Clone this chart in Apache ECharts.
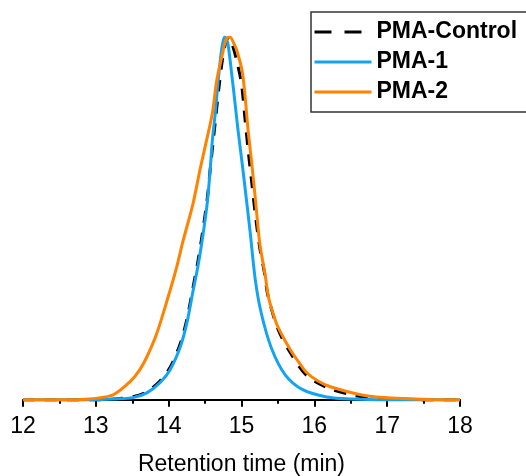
<!DOCTYPE html>
<html>
<head>
<meta charset="utf-8">
<script src="https://cdn.jsdelivr.net/npm/echarts@6/dist/echarts.min.js"></script>
<style>
  html, body { margin: 0; padding: 0; background: #fff; overflow: hidden; }
  #chart { width: 526px; height: 476px; }
</style>
</head>
<body>
<div id="chart"></div>
<script>
// series names and values: [time (min), normalised signal]
var names = ['PMA-Control', 'PMA-1', 'PMA-2'];

var control = [[12,0],[13.0,0],[13.24,0.002],[13.5,0.008],[13.70,0.022],[13.88,0.052],[14.02,0.09],
  [14.16,0.155],[14.25,0.222],[14.33,0.305],[14.40,0.38],[14.46,0.455],[14.53,0.555],[14.57,0.635],
  [14.61,0.71],[14.65,0.785],[14.69,0.86],[14.74,0.94],[14.79,0.99],[14.83,1.0],[14.88,0.975],
  [14.94,0.93],[15.0,0.87],[15.05,0.77],[15.09,0.69],[15.14,0.6],[15.19,0.51],[15.25,0.42],
  [15.32,0.345],[15.36,0.29],[15.5,0.195],[15.67,0.13],[15.9,0.066],[16.22,0.03],[16.53,0.013],
  [16.76,0.006],[17.18,0.002],[17.5,0],[18,0]];

var pma1 = [[12,0],[13.0,0],[13.24,0.002],[13.51,0.006],[13.70,0.019],[13.88,0.047],[14.02,0.083],
  [14.16,0.146],[14.25,0.212],[14.33,0.295],[14.40,0.366],[14.46,0.44],[14.53,0.543],[14.57,0.634],
  [14.60,0.716],[14.64,0.79],[14.68,0.88],[14.73,0.97],[14.77,1.0],[14.81,0.985],[14.87,0.89],
  [14.91,0.82],[14.95,0.747],[15.01,0.65],[15.08,0.53],[15.12,0.46],[15.19,0.33],[15.27,0.24],
  [15.41,0.143],[15.60,0.069],[15.84,0.028],[16.17,0.008],[16.53,0.002],[17,0],[18,0]];

var pma2 = [[12.0,0],[12.5,0],[12.8,0.001],[13.0,0.004],[13.24,0.014],[13.47,0.05],[13.6,0.082],
  [13.70,0.118],[13.84,0.185],[13.98,0.275],[14.11,0.366],[14.20,0.44],[14.33,0.537],[14.43,0.634],
  [14.50,0.697],[14.60,0.79],[14.66,0.88],[14.73,0.945],[14.79,0.995],[14.84,1.0],[14.90,0.98],
  [14.94,0.96],[15.01,0.905],[15.05,0.835],[15.09,0.744],[15.14,0.653],[15.19,0.554],[15.25,0.432],
  [15.32,0.35],[15.37,0.284],[15.43,0.24],[15.50,0.201],[15.67,0.138],[15.80,0.1],[15.90,0.074],
  [16.05,0.052],[16.22,0.036],[16.53,0.019],[16.76,0.01],[17.0,0.006],[17.3,0.003],[17.6,0.001],[18,0]];

var xTicks = [12, 13, 14, 15, 16, 17, 18];

var myChart = echarts.init(document.getElementById('chart'));
var font = "'Liberation Sans', Arial, sans-serif";

var option = {
  backgroundColor: '#ffffff',
  animation: false,
  // legend frame, open on the right: it runs off the edge in the original
  graphic: [{
    type: 'polyline',
    shape: { points: [[600, 12], [311, 12], [311, 112], [600, 112]] },
    style: { fill: 'none', stroke: '#333', lineWidth: 1.5 },
    silent: true
  }],
  legend: {
    data: [
      { name: names[0], lineStyle: { type: [17, 13] } },
      { name: names[1] },
      { name: names[2] }
    ],
    orient: 'vertical',
    left: 311,
    top: 12,
    itemWidth: 57,
    itemHeight: 14,
    itemGap: 6,
    padding: [8, 4, 8, 2],
    borderWidth: 0,
    lineStyle: { width: 3 },
    // hide the symbol dot, keep only the line
    itemStyle: { color: 'rgba(0,0,0,0)', borderWidth: 0 },
    textStyle: { fontFamily: font, fontSize: 23, fontWeight: 'bold', color: '#000', lineHeight: 24 }
  },
  grid: { left: 23, right: 66, top: 37, bottom: 74, outerBoundsMode: 'none', containLabel: false },
  xAxis: {
    type: 'value',
    min: xTicks[0],
    max: xTicks[xTicks.length - 1],
    interval: 1,
    name: 'Retention time (min)',
    nameLocation: 'middle',
    nameGap: 51,
    nameTextStyle: { fontFamily: font, fontSize: 23, color: '#000' },
    axisLine: { lineStyle: { color: '#000', width: 2 } },
    axisTick: { length: 7, lineStyle: { color: '#000', width: 2 } },
    minorTick: { show: true, splitNumber: 2, length: 4, lineStyle: { color: '#000', width: 2 } },
    splitLine: { show: false },
    axisLabel: { fontFamily: font, fontSize: 23, color: '#000', margin: 13 }
  },
  yAxis: {
    type: 'value',
    min: -0.006,
    max: 1,
    show: false
  },
  series: [
    {
      name: names[0], type: 'line', data: control, symbol: 'none',
      smooth: 0.3,
      lineStyle: { color: '#000', width: 3, type: [12, 10] },
      itemStyle: { color: '#000' }
    },
    {
      name: names[1], type: 'line', data: pma1, symbol: 'none',
      smooth: 0.3,
      lineStyle: { color: '#12a4f3', width: 3 },
      itemStyle: { color: '#12a4f3' }
    },
    {
      name: names[2], type: 'line', data: pma2, symbol: 'none',
      smooth: 0.3,
      lineStyle: { color: '#ff8200', width: 3 },
      itemStyle: { color: '#ff8200' }
    }
  ]
};
myChart.setOption(option);
</script>
</body>
</html>
